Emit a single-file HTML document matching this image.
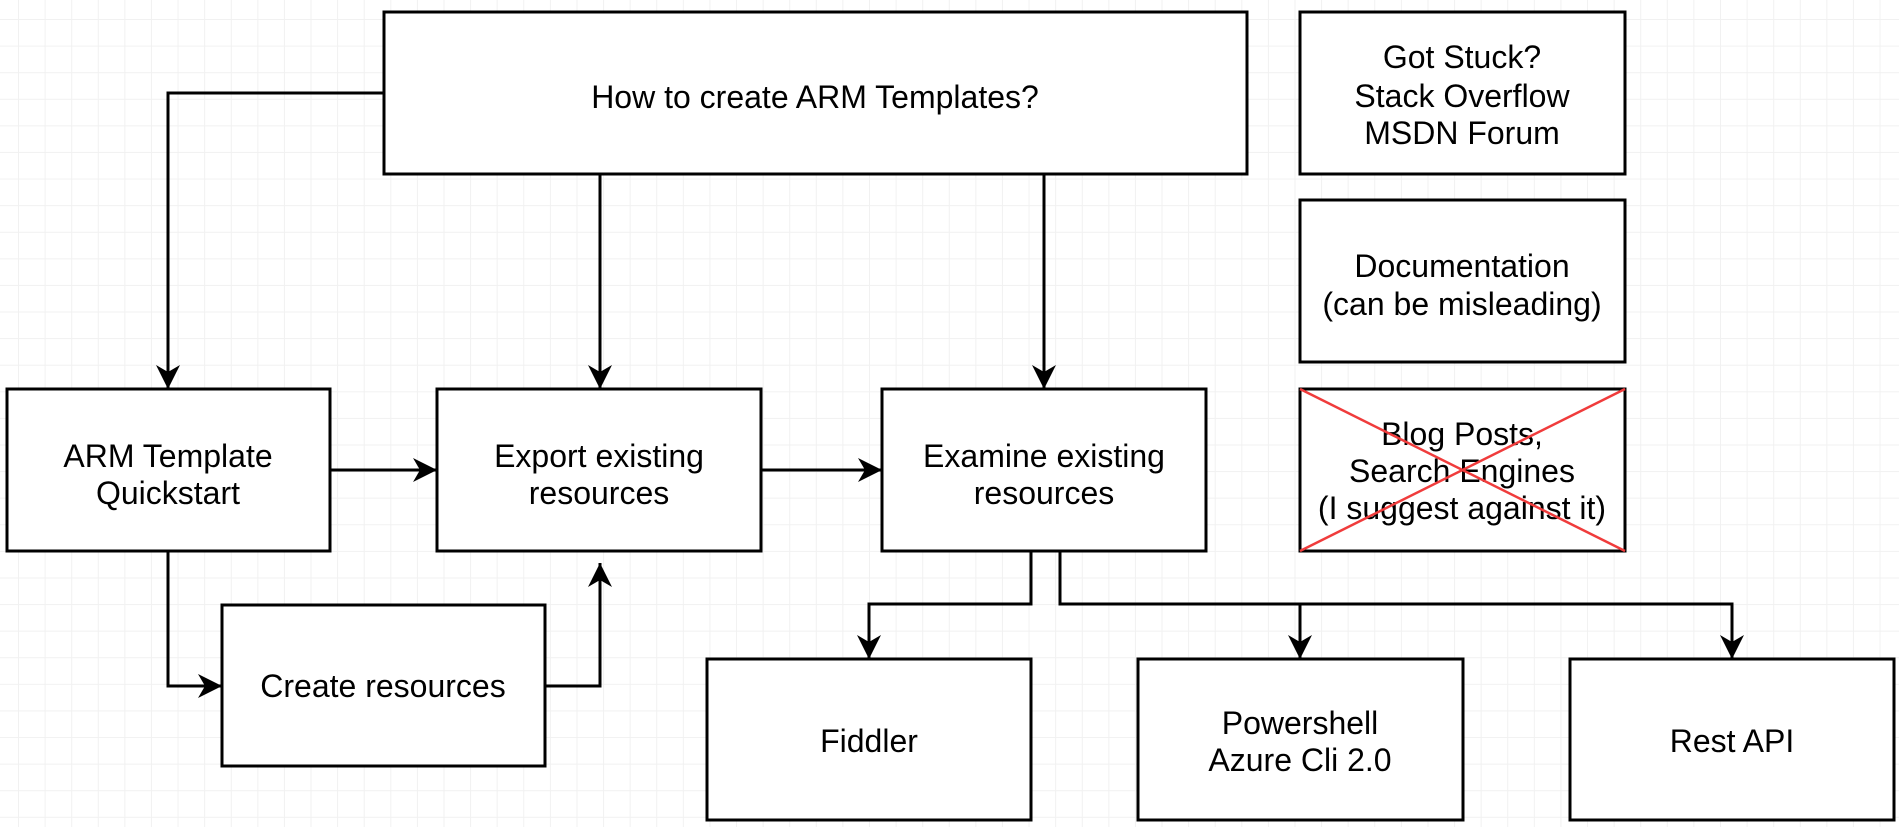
<!DOCTYPE html>
<html><head><meta charset="utf-8"><style>
html,body{margin:0;padding:0;background:#fff;}
body{width:1899px;height:827px;overflow:hidden;
background-image:linear-gradient(to right,#f1f1f1 1px,transparent 1px),linear-gradient(to bottom,#f1f1f1 1px,transparent 1px);
background-size:26.6px 26.6px;background-position:18px 19px;}
svg{position:absolute;left:0;top:0;}
text{font-family:"Liberation Sans",Arial,sans-serif;font-size:32px;fill:#000;text-anchor:middle;}
</style></head><body>
<svg width="1899" height="827" viewBox="0 0 1899 827">
<defs>
<marker id="a" viewBox="0 0 24 26" refX="24" refY="13" markerWidth="24" markerHeight="26" markerUnits="userSpaceOnUse" orient="auto">
<path d="M0,1 L24,13 L0,25 L7,13 Z" fill="#000"/>
</marker>
</defs>
<g fill="#fff" stroke="#000" stroke-width="3">
<rect x="384" y="12" width="863" height="162"/>
<rect x="7" y="389" width="323" height="162"/>
<rect x="437" y="389" width="324" height="162"/>
<rect x="882" y="389" width="324" height="162"/>
<rect x="222" y="605" width="323" height="161"/>
<rect x="707" y="659" width="324" height="161"/>
<rect x="1138" y="659" width="325" height="161"/>
<rect x="1570" y="659" width="324" height="161"/>
<rect x="1300" y="12" width="325" height="162"/>
<rect x="1300" y="200" width="325" height="162"/>
<rect x="1300" y="389" width="325" height="162"/>
</g>
<g fill="none" stroke="#000" stroke-width="3">
<path d="M384,93 H168 V389" marker-end="url(#a)"/>
<path d="M600,174 V389" marker-end="url(#a)"/>
<path d="M1044,174 V389" marker-end="url(#a)"/>
<path d="M330,470 H437" marker-end="url(#a)"/>
<path d="M761,470 H882" marker-end="url(#a)"/>
<path d="M168,551 V686 H222" marker-end="url(#a)"/>
<path d="M545,686 H600 V563" marker-end="url(#a)"/>
<path d="M1031,551 V604 H869 V659" marker-end="url(#a)"/>
<path d="M1060,551 V604 H1732 V659" marker-end="url(#a)"/>
<path d="M1300,604 V659" marker-end="url(#a)"/>
</g>
<text x="815" y="108">How to create ARM Templates?</text>
<text x="168" y="467">ARM Template</text>
<text x="168" y="504">Quickstart</text>
<text x="599" y="467">Export existing</text>
<text x="599" y="504">resources</text>
<text x="1044" y="467">Examine existing</text>
<text x="1044" y="504">resources</text>
<text x="383" y="697">Create resources</text>
<text x="869" y="752">Fiddler</text>
<text x="1300" y="734">Powershell</text>
<text x="1300" y="771">Azure Cli 2.0</text>
<text x="1732" y="752">Rest API</text>
<text x="1462" y="68">Got Stuck?</text>
<text x="1462" y="107">Stack Overflow</text>
<text x="1462" y="144">MSDN Forum</text>
<text x="1462" y="277">Documentation</text>
<text x="1462" y="315">(can be misleading)</text>
<text x="1462" y="445">Blog Posts,</text>
<text x="1462" y="482">Search Engines</text>
<text x="1462" y="519">(I suggest against it)</text>
<g stroke="#f03c3c" stroke-width="2.5">
<line x1="1300" y1="389" x2="1625" y2="551"/>
<line x1="1625" y1="389" x2="1300" y2="551"/>
</g>
</svg>
</body></html>
